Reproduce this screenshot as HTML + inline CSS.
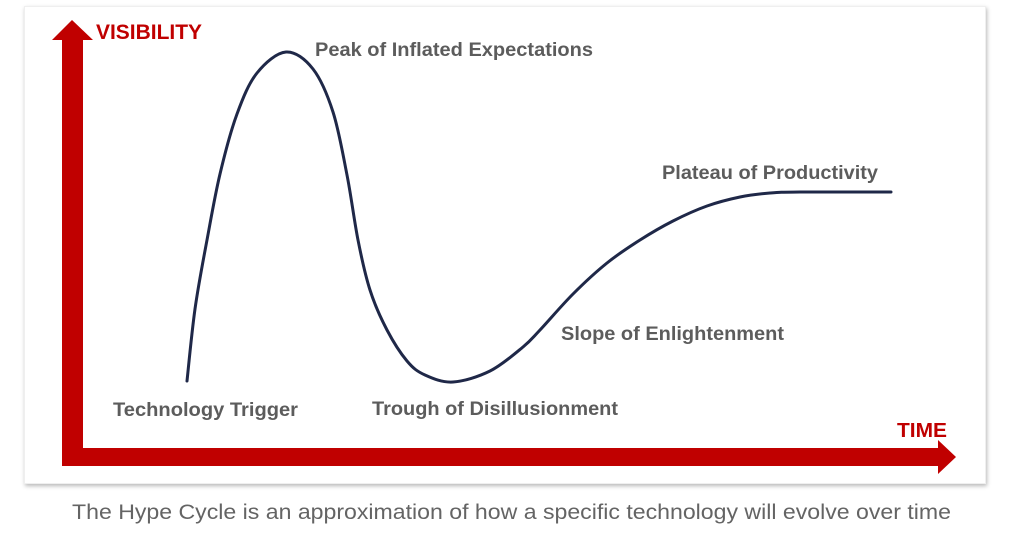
<!DOCTYPE html>
<html>
<head>
<meta charset="utf-8">
<style>
  html, body { margin:0; padding:0; background:#ffffff; }
  body { width:1024px; height:537px; overflow:hidden; position:relative; }
  .card {
    position:absolute; left:24px; top:6px; width:960px; height:476px;
    background:#fff; border:1px solid #efefef;
    box-shadow: 1px 2px 4px rgba(0,0,0,0.28);
  }
  svg { position:absolute; left:0; top:0; }
</style>
</head>
<body>
<div class="card"></div>
<svg width="1024" height="537" viewBox="0 0 1024 537" xmlns="http://www.w3.org/2000/svg">
  <!-- axes -->
  <polygon points="52,40 72,20 93,40 83,40 83,448 938,448 938,440 956,457 938,474 938,466 62,466 62,40" fill="#c00000"/>
  <text x="96" y="39" font-family="Liberation Sans, sans-serif" font-weight="bold" font-size="21" fill="#c00000" textLength="106" lengthAdjust="spacingAndGlyphs">VISIBILITY</text>
  <text x="897" y="437" font-family="Liberation Sans, sans-serif" font-weight="bold" font-size="20" fill="#c00000" textLength="50" lengthAdjust="spacingAndGlyphs">TIME</text>

  <!-- curve -->
  <path id="curve" fill="none" stroke="#1f2848" stroke-width="3" stroke-linejoin="round" stroke-linecap="round"
    d="M187,381 C190.3,357.5 198.7,284.7 207,240 C215.3,195.3 223.8,144.3 237,113 C250.2,81.7 270,52 286,52 C302,52 321,81.7 333,113 C345,144.3 349,203.8 358,240 C367,276.2 371.2,306.3 387,330 C402.8,353.7 430.3,379.2 453,382 C475.7,384.8 497.3,366.8 523,347 C548.7,327.2 576.3,286.5 607,263 C637.7,239.5 676,217.8 707,206 C738,194.2 762.3,193.5 793,192 C825,192 858,192 891,192"/>

  <!-- labels -->
  <g font-family="Liberation Sans, sans-serif" font-weight="bold" font-size="19" fill="#5c5c5c">
    <text x="315" y="56" textLength="278" lengthAdjust="spacingAndGlyphs">Peak of Inflated Expectations</text>
    <text x="662" y="179" textLength="216" lengthAdjust="spacingAndGlyphs">Plateau of Productivity</text>
    <text x="561" y="340" textLength="223" lengthAdjust="spacingAndGlyphs">Slope of Enlightenment</text>
    <text x="113" y="416" textLength="185" lengthAdjust="spacingAndGlyphs">Technology Trigger</text>
    <text x="372" y="415" textLength="246" lengthAdjust="spacingAndGlyphs">Trough of Disillusionment</text>
  </g>

  <!-- caption -->
  <text x="72" y="519" font-family="Liberation Sans, sans-serif" font-size="21" fill="#646464" textLength="879" lengthAdjust="spacingAndGlyphs">The Hype Cycle is an approximation of how a specific technology will evolve over time</text>
</svg>
<script>
(function(){
  try {
    var p = [[187,381],[195,309],[207,240],[220,174],[237,114],[257,73],[286,52],[313,69],[333,112],[347,175],[358,240],[370,290],[387,330],[407,361],[425,375],[453,382],[490,371],[523,347],[540,330],[573,294],[607,263],[640,240],[673,221],[707,206],[740,197],[770,193],[800,192],[891,192]];
    var n = p.length, d = "M" + p[0][0] + "," + p[0][1];
    for (var i = 0; i < n - 1; i++) {
      var p0 = p[i > 0 ? i - 1 : 0], p1 = p[i], p2 = p[i + 1], p3 = p[i + 2 < n ? i + 2 : n - 1];
      var c1x = p1[0] + (p2[0] - p0[0]) / 6, c1y = p1[1] + (p2[1] - p0[1]) / 6;
      var c2x = p2[0] - (p3[0] - p1[0]) / 6, c2y = p2[1] - (p3[1] - p1[1]) / 6;
      if (i >= n - 3) { c1y = Math.max(c1y, 192); c2y = Math.max(c2y, 192); }
      d += " C" + c1x.toFixed(1) + "," + c1y.toFixed(1) + " " + c2x.toFixed(1) + "," + c2y.toFixed(1) + " " + p2[0] + "," + p2[1];
    }
    document.getElementById("curve").setAttribute("d", d);
  } catch (e) {}
})();
</script>
</body>
</html>
